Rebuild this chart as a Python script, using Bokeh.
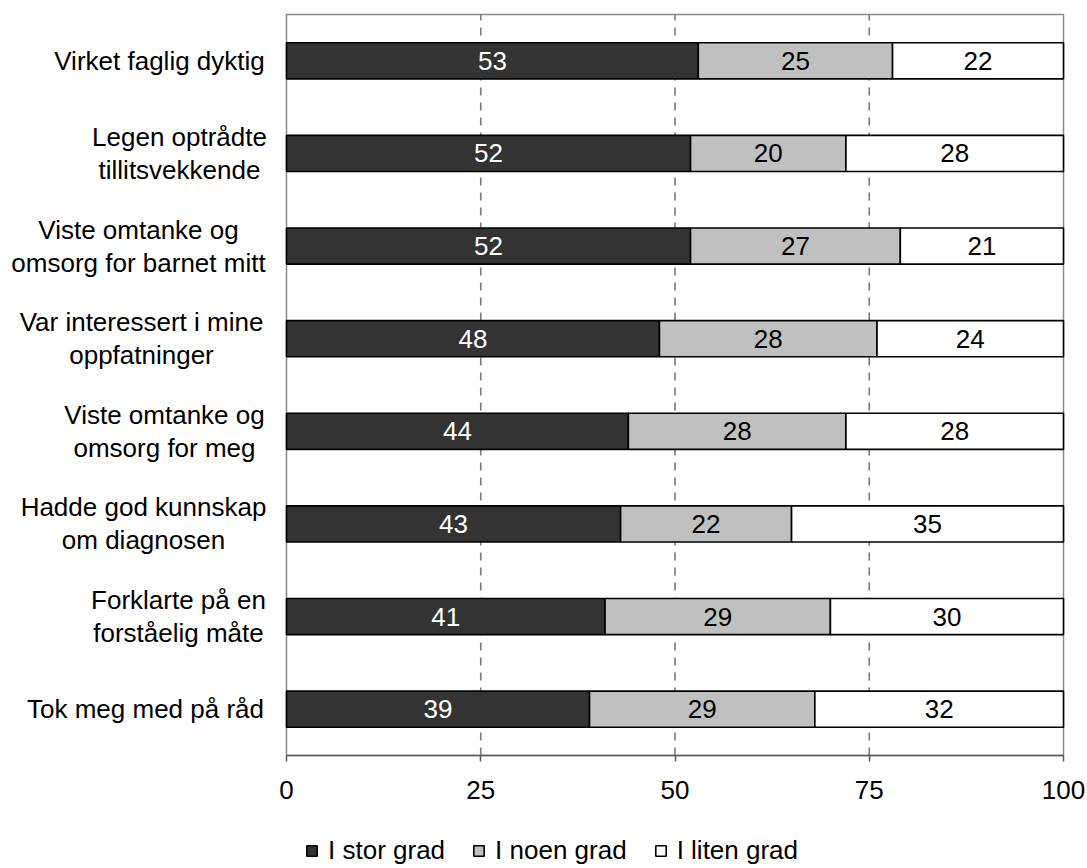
import numpy as np
from bokeh.plotting import figure
from bokeh.models import Range1d, Label, Legend, LegendItem, FixedTicker, ColumnDataSource
from bokeh.core.properties import value
from bokeh.embed import file_html
from bokeh.resources import INLINE

# Survey items (top to bottom) and shares in percent
categories = [
    "Virket faglig dyktig",
    "Legen optrådte\ntillitsvekkende",
    "Viste omtanke og\nomsorg for barnet mitt",
    "Var interessert i mine\noppfatninger",
    "Viste omtanke og\nomsorg for meg",
    "Hadde god kunnskap\nom diagnosen",
    "Forklarte på en\nforståelig måte",
    "Tok meg med på råd",
]
stor_grad = [53, 52, 52, 48, 44, 43, 41, 39]
noen_grad = [25, 20, 27, 28, 28, 22, 29, 29]
liten_grad = [22, 28, 21, 24, 28, 35, 30, 32]
series_names = ["I stor grad", "I noen grad", "I liten grad"]
x_ticks = [0, 25, 50, 75, 100]

# ---- layout (pixels) ----
W, H = 1087, 868
PLOT_L, PLOT_R = 286, 1063      # where 0 and 100 sit
PLOT_T, PLOT_B = 14, 755        # top and bottom of the bar area
FONT = "Liberation Sans"
FS = "26px"
fills = ["#333333", "#c0c0c0", "#ffffff"]
text_colors = ["#ffffff", "#000000", "#000000"]
label_cx = [159, 179, 138, 141, 164, 143, 178, 145]   # centre of each category label block

n = len(categories)
x0, x1 = x_ticks[0], x_ticks[-1]
xu = (x1 - x0) / (PLOT_R - PLOT_L)
yu = n / (PLOT_B - PLOT_T)
x_range = Range1d(x0 - PLOT_L * xu, x1 + (W - PLOT_R) * xu)
y_range = Range1d(-(H - PLOT_B) * yu, n + PLOT_T * yu)

ypos = np.arange(n)[::-1] + 0.5  # first item at the top

p = figure(
    width=W, height=H, x_range=x_range, y_range=y_range,
    y_axis_type=None, output_backend="svg", toolbar_location=None,
    min_border=0,
)
p.outline_line_color = None
p.background_fill_color = "#ffffff"
p.border_fill_color = "#ffffff"
p.xgrid.visible = False
p.ygrid.visible = False

# plot-area frame
p.quad(left=[x0], right=[x1], bottom=[0], top=[n],
       fill_color=None, line_color="#8a8a8a", line_width=1.5)

# dashed reference lines at the inner ticks
inner = x_ticks[1:-1]
p.segment(x0=inner, x1=inner, y0=[0] * len(inner), y1=[n] * len(inner),
          line_color="#7a7a7a", line_width=1.6, line_dash="8 7")

# value axis at the bottom of the bar area
ax = p.xaxis[0]
ax.fixed_location = 0
ax.bounds = (x0, x1)
ax.ticker = FixedTicker(ticks=x_ticks)
ax.axis_line_color = "#5a5a5a"
ax.axis_line_width = 1.5
ax.major_tick_line_color = "#5a5a5a"
ax.major_tick_line_width = 1.5
ax.major_tick_out = 6
ax.major_tick_in = 0
ax.minor_tick_line_color = None
ax.major_label_standoff = 19
ax.major_label_text_font = FONT
ax.major_label_text_font_size = FS
ax.major_label_text_color = "#000000"

# stacked horizontal bars with their values
series = [np.array(stor_grad, float), np.array(noen_grad, float), np.array(liten_grad, float)]
left = np.zeros(n)
renderers = []
for vals, fill, tcol in zip(series, fills, text_colors):
    right = left + vals
    src = ColumnDataSource(dict(
        y=ypos, left=left, right=right,
        mid=(left + right) / 2, lab=[str(int(v)) for v in vals],
    ))
    r = p.hbar(y="y", left="left", right="right", height=0.39, source=src,
               fill_color=fill, line_color="#000000", line_width=1.6)
    renderers.append(r)
    p.text(x="mid", y="y", text="lab", source=src,
           text_font=value(FONT), text_font_size=FS, text_color=tcol,
           text_align="center", text_baseline="middle")
    left = right

# category labels, each block centred on its own lines
for cat, yv, cx in zip(categories, ypos, label_cx):
    p.add_layout(Label(
        x=cx, y=yv, x_units="screen", y_units="data", text=cat,
        text_font=FONT, text_font_size=FS, text_color="#000000",
        text_align="center", text_baseline="middle", text_line_height=1.1,
    ))

legend = Legend(
    items=[LegendItem(label=nm, renderers=[r]) for nm, r in zip(series_names, renderers)],
    orientation="horizontal", location=(305, 2),
    glyph_width=13, glyph_height=13, label_standoff=10, spacing=27,
    padding=0, margin=0, border_line_color=None, background_fill_alpha=0,
    label_text_font=FONT, label_text_font_size=FS, label_text_color="#000000",
)
p.add_layout(legend, "center")

open("out.html", "w").write(file_html(p, INLINE))
